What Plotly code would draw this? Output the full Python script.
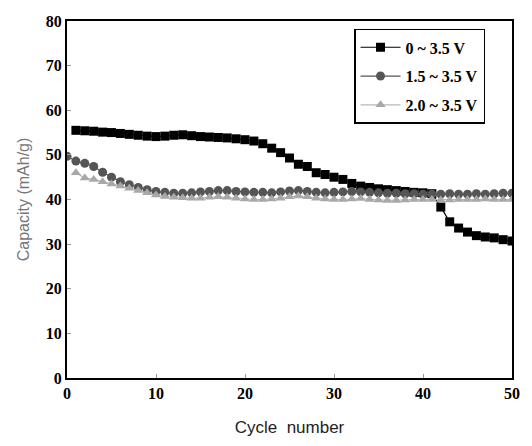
import plotly.graph_objects as go

cycles_sq = list(range(1, 51))
cap_0_35 = [55.5, 55.4, 55.3, 55.1, 55.0, 54.8, 54.6, 54.4, 54.2, 54.1,
            54.2, 54.4, 54.5, 54.3, 54.1, 54.0, 53.9, 53.8, 53.6, 53.4,
            53.1, 52.5, 51.5, 50.5, 49.3, 47.9, 47.4, 46.0, 45.6, 45.0,
            44.5, 43.6, 43.0, 42.7, 42.4, 42.2, 42.0, 41.8, 41.6, 41.5,
            41.3, 38.3, 35.0, 33.6, 32.7, 31.9, 31.6, 31.4, 31.0, 30.7]

cycles_ci = list(range(0, 51))
cap_15_35 = [49.7, 48.6, 48.1, 47.4, 46.1, 45.0, 44.0, 43.3, 42.7, 42.2,
             41.8, 41.6, 41.4, 41.4, 41.5, 41.7, 41.8, 42.0, 42.0, 41.8,
             41.7, 41.6, 41.6, 41.5, 41.7, 41.9, 42.0, 41.8, 41.6, 41.5,
             41.6, 41.7, 41.8, 41.7, 41.6, 41.5, 41.4, 41.4, 41.3, 41.3,
             41.2, 41.2, 41.2, 41.3, 41.2, 41.2, 41.3, 41.2, 41.3, 41.4, 41.4]

cycles_tr = list(range(1, 51))
cap_20_35 = [46.0, 44.8, 44.5, 44.0, 43.5, 43.0, 42.5, 42.0, 41.5, 41.0,
             40.7, 40.5, 40.4, 40.3, 40.3, 40.5, 40.6, 40.5, 40.3, 40.1,
             40.0, 40.0, 40.1, 40.3, 40.6, 40.8, 40.6, 40.3, 40.1, 40.0,
             40.0, 40.1, 40.2, 40.0, 39.9, 39.8, 39.8, 39.9, 40.0, 40.0,
             40.0, 39.9, 39.9, 40.0, 40.0, 40.0, 40.1, 40.0, 40.0, 40.0]

series_names = ["0 ~ 3.5 V", "1.5 ~ 3.5 V", "2.0 ~ 3.5 V"]
x_ticks = [0, 10, 20, 30, 40, 50]
y_ticks = [0, 10, 20, 30, 40, 50, 60, 70, 80]

fig = go.Figure()
fig.add_trace(go.Scatter(x=cycles_sq, y=cap_0_35, name="<b>" + series_names[0] + "</b>",
                         mode="lines+markers", legendgroup="a",
                         line=dict(color="#000000", width=1.2),
                         marker=dict(symbol="square", size=9, color="#000000")))
fig.add_trace(go.Scatter(x=cycles_ci, y=cap_15_35, name="<b>" + series_names[1] + "</b>",
                         mode="lines+markers", legendgroup="b",
                         line=dict(color="#555555", width=1.2),
                         marker=dict(symbol="circle", size=9, color="#555555")))
fig.add_trace(go.Scatter(x=cycles_tr, y=cap_20_35, name="<b>" + series_names[2] + "</b>",
                         mode="lines+markers", legendgroup="c",
                         line=dict(color="#b8b8b8", width=1.2),
                         marker=dict(symbol="triangle-up", size=9, color="#a8a8a8")))

tf = dict(family="Liberation Serif", size=16, color="#000000")
fig.update_layout(
    width=532, height=446,
    margin=dict(l=67, r=12, t=21, b=66),
    paper_bgcolor="white", plot_bgcolor="white",
    showlegend=True,
    legend=dict(x=0.645, y=0.978, xanchor="left", yanchor="top",
                bgcolor="white", bordercolor="#000000", borderwidth=1.5,
                font=dict(family="Liberation Serif", size=16, color="#000000"),
                itemwidth=40, tracegroupgap=5),
    xaxis=dict(range=[0, 50], tickvals=x_ticks, ticktext=["<b>%d</b>" % v for v in x_ticks],
               showgrid=False, zeroline=False, showline=True, linecolor="#000000",
               linewidth=2, mirror=True, ticks="inside", ticklen=4, tickcolor="#999999",
               tickfont=tf,
               title=dict(text="Cycle  number", font=dict(family="Liberation Sans", size=17, color="#222222"),
                          standoff=20)),
    yaxis=dict(range=[0, 80], tickvals=y_ticks, ticktext=["<b>%d</b>" % v for v in y_ticks],
               showgrid=False, zeroline=False, showline=True, linecolor="#000000",
               linewidth=2, mirror=True, ticks="inside", ticklen=4, tickcolor="#999999",
               tickfont=tf,
               title=dict(text="Capacity (mAh/g)", font=dict(family="Liberation Sans", size=16, color="#777777"),
                          standoff=12)),
)

fig.write_html("out.html")
